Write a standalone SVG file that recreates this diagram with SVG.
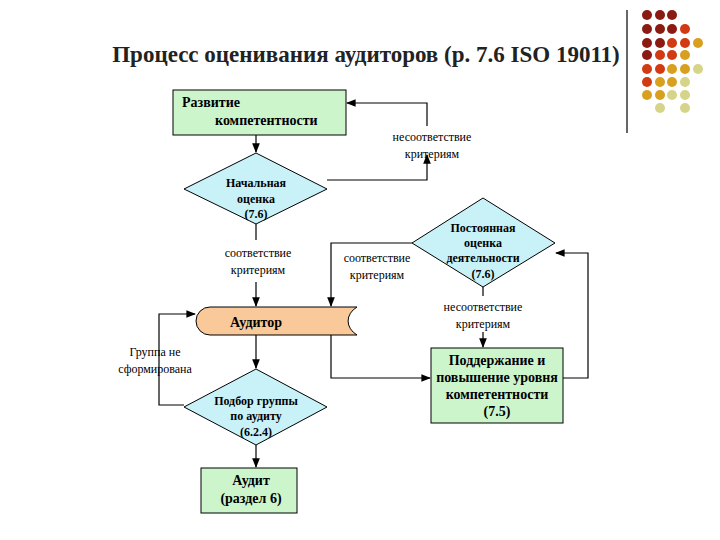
<svg xmlns="http://www.w3.org/2000/svg" width="720" height="540" viewBox="0 0 720 540">
<style>
text{font-family:"Liberation Serif","Times New Roman","DejaVu Serif",serif}
.t{font-size:13px;fill:#000}
.b{font-weight:bold;font-size:14px}
.s{font-size:12px}
.g{fill:#ccf5cc;stroke:#000;stroke-width:1}
.d{fill:#c8f2f8;stroke:#000;stroke-width:1}
.c{fill:none;stroke:#000;stroke-width:1.2}
</style>
<defs><marker id="a" viewBox="0 0 10 10" refX="9" refY="5" markerWidth="8" markerHeight="8" orient="auto"><path d="M0,1 L10,5 L0,9 z" fill="#000"/></marker></defs>
<rect width="720" height="540" fill="#fff"/>
<text x="366" y="62" text-anchor="middle" font-family="Liberation Serif, serif" font-size="23" font-weight="bold" fill="#222">Процесс оценивания аудиторов (р. 7.6 ISO 19011)</text>
<line x1="627" y1="10" x2="627" y2="133" stroke="#000" stroke-width="1.2"/>
<g id="dots">
<g fill="#8b1a12"><circle cx="647" cy="15" r="5"/><circle cx="660" cy="15" r="5"/><circle cx="672" cy="15" r="5"/><circle cx="647" cy="29" r="5"/><circle cx="660" cy="29" r="5"/><circle cx="672" cy="29" r="5"/><circle cx="647" cy="43" r="5"/><circle cx="660" cy="43" r="5"/><circle cx="647" cy="55" r="5"/></g>
<g fill="#d23a14"><circle cx="685" cy="29" r="5"/><circle cx="672" cy="43" r="5"/><circle cx="685" cy="43" r="5"/><circle cx="660" cy="55" r="5"/><circle cx="672" cy="55" r="5"/><circle cx="647" cy="69" r="5"/><circle cx="660" cy="69" r="5"/><circle cx="647" cy="82" r="5"/></g>
<g fill="#d9a020"><circle cx="698" cy="43" r="5"/><circle cx="685" cy="55" r="5"/><circle cx="672" cy="69" r="5"/><circle cx="685" cy="69" r="5"/><circle cx="660" cy="82" r="5"/><circle cx="672" cy="82" r="5"/><circle cx="647" cy="95" r="5"/><circle cx="660" cy="95" r="5"/></g>
<g fill="#d6d488"><circle cx="698" cy="69" r="5"/><circle cx="685" cy="82" r="5"/><circle cx="672" cy="95" r="5"/><circle cx="685" cy="95" r="5"/><circle cx="660" cy="108" r="5"/><circle cx="685" cy="108" r="5"/></g>
</g>
<g id="connectors">
<path class="c" d="M256,135 V152" marker-end="url(#a)"/>
<path class="c" d="M327,180 H427 V155" marker-end="url(#a)"/>
<path class="c" d="M427,126 V103 H347" marker-end="url(#a)"/>
<path class="c" d="M256,224 V240 M256,282 V306" marker-end="url(#a)"/>
<path class="c" d="M412,243 H331 V306" marker-end="url(#a)"/>
<path class="c" d="M483,287 V296 M483,332 V347" marker-end="url(#a)"/>
<path class="c" d="M563,378 H588 V253 H556" marker-end="url(#a)"/>
<path class="c" d="M331,335 V378 H430" marker-end="url(#a)"/>
<path class="c" d="M256,335 V368" marker-end="url(#a)"/>
<path class="c" d="M184,405 H159 V314 H195" marker-end="url(#a)"/>
<path class="c" d="M256,445 V467" marker-end="url(#a)"/>
</g>
<g id="labels">
<text x="432" y="141" text-anchor="middle" class="t s">несоответствие</text>
<text x="432" y="158" text-anchor="middle" class="t s">критериям</text>
<text x="258" y="257" text-anchor="middle" class="t s">соответствие</text>
<text x="258" y="274" text-anchor="middle" class="t s">критериям</text>
<text x="377" y="262" text-anchor="middle" class="t s">соответствие</text>
<text x="377" y="279" text-anchor="middle" class="t s">критериям</text>
<text x="483" y="311" text-anchor="middle" class="t s">несоответствие</text>
<text x="483" y="328" text-anchor="middle" class="t s">критериям</text>
<text x="155" y="356" text-anchor="middle" class="t s">Группа не</text>
<text x="155" y="373" text-anchor="middle" class="t s">сформирована</text>
</g>
<g id="n1"><rect class="g" x="173" y="90" width="173" height="45"/>
<text x="182" y="107" class="t b">Развитие</text><text x="215" y="125" class="t b">компетентности</text></g>
<g id="n2"><polygon class="d" points="256,153 327,189 256,224 184,189"/>
<text x="256" y="187" text-anchor="middle" class="t b" style="font-size:12px">Начальная</text>
<text x="256" y="203" text-anchor="middle" class="t b" style="font-size:12px">оценка</text>
<text x="256" y="218" text-anchor="middle" class="t b" style="font-size:12px">(7.6)</text></g>
<g id="n3"><polygon class="d" points="483,198 555,243 483,287 412,243"/>
<text x="483" y="232" text-anchor="middle" class="t b" style="font-size:12px">Постоянная</text>
<text x="483" y="247" text-anchor="middle" class="t b" style="font-size:12px">оценка</text>
<text x="483" y="262" text-anchor="middle" class="t b" style="font-size:12px">деятельности</text>
<text x="483" y="278" text-anchor="middle" class="t b" style="font-size:12px">(7.6)</text></g>
<g id="n4"><path d="M357,307 H210 A14,14 0 0 0 210,335 H357 A24,18 0 0 1 357,307 z" fill="#f9c99a" stroke="#000"/>
<text x="256" y="327" text-anchor="middle" class="t b">Аудитор</text></g>
<g id="n5"><polygon class="d" points="256,369 327,407 256,445 184,407"/>
<text x="256" y="405" text-anchor="middle" class="t b" style="font-size:12px">Подбор группы</text>
<text x="256" y="420" text-anchor="middle" class="t b" style="font-size:12px">по аудиту</text>
<text x="256" y="436" text-anchor="middle" class="t b" style="font-size:12px">(6.2.4)</text></g>
<g id="n6"><rect class="g" x="201" y="468" width="96" height="45"/>
<text x="251" y="485" text-anchor="middle" class="t b">Аудит</text>
<text x="251" y="503" text-anchor="middle" class="t b">(раздел 6)</text></g>
<g id="n7"><rect class="g" x="431" y="348" width="132" height="75"/>
<text x="497" y="365" text-anchor="middle" class="t b">Поддержание и</text>
<text x="497" y="382" text-anchor="middle" class="t b">повышение уровня</text>
<text x="497" y="399" text-anchor="middle" class="t b">компетентности</text>
<text x="497" y="416" text-anchor="middle" class="t b">(7.5)</text></g>
</svg>
